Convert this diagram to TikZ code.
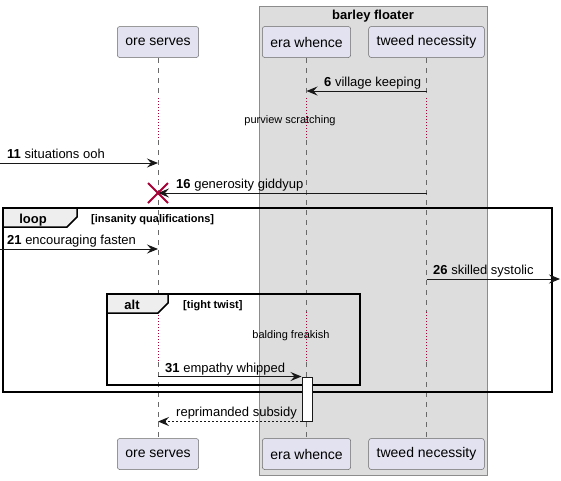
\documentclass[tikz,border=0pt]{standalone}
\usepackage{fontspec}
\setmainfont{Liberation Sans}
\usetikzlibrary{arrows.meta}
\definecolor{partfill}{HTML}{E2E2F0}
\definecolor{boxline}{HTML}{181818}
\definecolor{groupfill}{HTML}{DDDDDD}
\definecolor{tabfill}{HTML}{EEEEEE}
\definecolor{delayred}{HTML}{A80036}
\tikzset{
  part/.style={draw=boxline!65, fill=partfill, rounded corners=2.5pt, line width=0.5pt, inner xsep=8pt, minimum height=31pt, font=\fontsize{14}{16}\selectfont},
  life/.style={draw=boxline!65, line width=0.5pt, dash pattern=on 5pt off 5pt},
  delay/.style={draw=delayred, line width=0.8pt, dash pattern=on 1pt off 2pt},
  msg/.style={draw=boxline, line width=1pt, -{Stealth[length=11pt,width=9pt,inset=4pt]}},
  lbl/.style={anchor=base west, inner sep=0pt, font=\fontsize{13}{15}\selectfont},
  delaytext/.style={inner sep=0pt, font=\fontsize{11}{13}\selectfont},
  frame/.style={draw=black, line width=1.5pt},
  tab/.style={draw=black, line width=1.5pt, fill=tabfill},
  kw/.style={anchor=base, inner sep=0pt, font=\bfseries\fontsize{13}{15}\selectfont},
  cond/.style={anchor=base west, inner sep=0pt, font=\bfseries\fontsize{11}{13}\selectfont},
}
\begin{document}
\begin{tikzpicture}[x=1pt,y=-1pt]
\useasboundingbox (0,0) rectangle (561,480);
% box round the two right participants
\draw[fill=groupfill, draw=black!45, line width=1pt] (259,6) rectangle (487,475);
\node[kw] (grp) at (373,19) {barley floater};
% participants
\node[part] (ore) at (158,42) {ore serves};
\node[part] (era) at (306.5,42) {era whence};
\node[part] (tweed) at (426.5,42) {tweed necessity};
\node[part] (ore-b) at (158,454) {ore serves};
\node[part] (era-b) at (306.5,454) {era whence};
\node[part] (tweed-b) at (426.5,454) {tweed necessity};
% delays
\coordinate (d1a) at (0,98);
\coordinate (d1b) at (0,140);
\coordinate (d2a) at (0,312);
\coordinate (d2b) at (0,362);
\foreach \p in {ore,era,tweed} {
  \draw[life] (\p.south) -- (\p |- d1a);
  \draw[delay] (\p |- d1a) -- (\p |- d1b);
  \draw[life] (\p |- d1b) -- (\p |- d2a);
  \draw[delay] (\p |- d2a) -- (\p |- d2b);
  \draw[life] (\p |- d2b) -- (\p-b.north);
}
\node[delaytext] (dly1) at (290,121) {purview scratching};
\node[delaytext] (dly2) at (291,336) {balding freakish};
% loop and alt
\draw[frame] (3,208) rectangle (552,392);
\draw[tab] (3,208) -- (77,208) -- (77,217) -- (67,227) -- (3,227) -- cycle;
\node[kw] (loopkw) at (33,223) {loop};
\node[cond] (loopcond) at (91,222) {[insanity qualifications]};
\draw[frame] (107,294) rectangle (360,385);
\draw[tab] (107,294) -- (168,294) -- (168,303) -- (158,313) -- (107,313) -- cycle;
\node[kw] (altkw) at (132,309) {alt};
\node[cond] (altcond) at (183,308) {[tight twist]};
% activation
\node[draw=boxline, fill=white, line width=1pt, minimum width=10pt, minimum height=44pt, inner sep=0pt] (act) at (307,399) {};
% messages
\coordinate (r6) at (0,91);
\coordinate (in11) at (0,163);
\coordinate (r16) at (0,193);
\coordinate (in21) at (0,249);
\coordinate (r26) at (0,279);
\coordinate (out26) at (560,279);
\draw[msg] (tweed |- r6) -- (era |- r6);
\node[lbl] (l6) at (324,86) {\textbf{6} village keeping};
\draw[msg] (in11) -- (ore |- in11);
\node[lbl] (l11) at (7,158) {\textbf{11} situations ooh};
\draw[msg] (tweed |- r16) -- (ore |- r16);
\node[lbl] (l16) at (176,188) {\textbf{16} generosity giddyup};
\coordinate (x16) at (ore |- r16);
\draw[delayred, line width=2pt] (x16) +(-10,-10) -- +(10,10) (x16) +(-10,10) -- +(10,-10);
\draw[msg] (in21) -- (ore |- in21);
\node[lbl] (l21) at (7,244) {\textbf{21} encouraging fasten};
\draw[msg] (tweed |- r26) -- (out26);
\node[lbl] (l26) at (433,274) {\textbf{26} skilled systolic};
\draw[msg] (ore |- act.north) -- (act.north west);
\node[lbl] (l31) at (165,372) {\textbf{31} empathy whipped};
\draw[msg, dash pattern=on 2pt off 2pt] (act.south west) -- (ore |- act.south);
\node[lbl] (lret) at (176,416) {reprimanded subsidy};
\end{tikzpicture}
\end{document}
